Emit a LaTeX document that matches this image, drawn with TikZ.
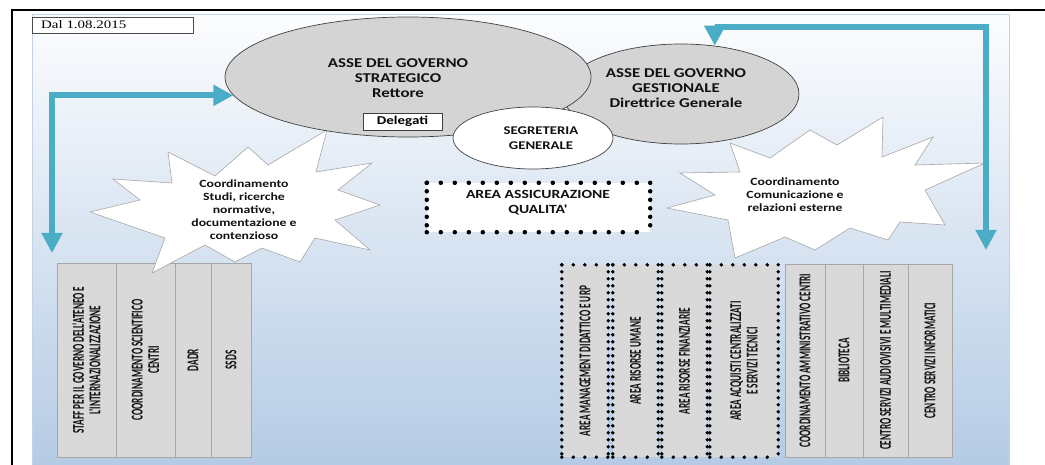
\documentclass[tikz,border=0pt]{standalone}
\usepackage{fontspec}
\setmainfont{Carlito}
\newfontfamily\hfont[FakeStretch=1.25]{Carlito}
\newfontfamily\vfont[FakeStretch=0.56, BoldFeatures={FakeStretch=0.56}]{Carlito}
\newfontfamily\datefont[FakeStretch=1.3]{Liberation Serif}
\usetikzlibrary{shapes.geometric,arrows.meta}
\definecolor{ellfill}{HTML}{D4D4D4}
\definecolor{boxfill}{HTML}{D9D9D9}
\definecolor{boxline}{HTML}{A6A6A6}
\definecolor{tealc}{HTML}{4BACC6}
\definecolor{paneltop}{HTML}{FCFDFE}
\definecolor{panelbot}{HTML}{B5CBE5}
\definecolor{panelline}{HTML}{C3D2E4}
\definecolor{txt}{HTML}{111111}
\begin{document}
\begin{tikzpicture}[x=1pt,y=-1pt,
  ell/.style={ellipse, draw=black!75, line width=0.7pt, fill=ellfill, inner sep=0pt},
  htext/.style={font=\hfont\bfseries\fontsize{13.5}{15}\selectfont, align=center, text=txt, inner sep=0pt},
  stext/.style={font=\hfont\bfseries\fontsize{11}{13}\selectfont, align=center, text=txt, inner sep=0pt},
  vtext/.style={font=\vfont\bfseries\fontsize{16.5}{16.5}\selectfont, align=center, text=txt, inner sep=0pt, rotate=90},
  gbox/.style={draw=boxline, line width=0.7pt, fill=boxfill, inner sep=0pt},
  dbox/.style={fill=boxfill, inner sep=0pt},
  starb/.style={fill=white, draw=black!35, line width=0.6pt},
  hdots/.style={line width=4.5pt, line cap=round, dash pattern=on 0pt off 14pt},
  vdots/.style={line width=4.5pt, line cap=round, dash pattern=on 0pt off 8.5pt},
  hsdots/.style={line width=3.8pt, line cap=round, dash pattern=on 0pt off 11.5pt},
  vsdots/.style={line width=3.8pt, line cap=round, dash pattern=on 0pt off 7pt},
  tarr/.style={draw=tealc, line width=6pt, line join=miter, {Triangle[length=20pt,width=20pt]}-{Triangle[length=20pt,width=20pt]}}
]
\useasboundingbox (0,0) rectangle (1045,465);
% panel
\shade[top color=paneltop, bottom color=panelbot] (32,14) rectangle (1009,465);
\draw[panelline, line width=0.8pt] (32,465) -- (32,14) -- (1009,14) -- (1009,465);
% outer frame
\draw[black, line width=2.5pt] (12,465) -- (12,10) -- (1045,10);
% date box
\node[draw=black!70, fill=white, line width=0.8pt, minimum width=161, minimum height=16, inner sep=0pt] (datebox) at (112.5,25) {};
\node[anchor=west, inner sep=0pt, font=\datefont\fontsize{11.5}{13}\selectfont] (datetext) at (41,25) {Dal 1.08.2015};

% bottom-left boxes
\node[gbox, minimum width=59, minimum height=194] (b1) at (86.5,360) {};
\node[gbox, minimum width=59, minimum height=194] (b2) at (145.5,360) {};
\node[gbox, minimum width=36, minimum height=194] (b3) at (193,360) {};
\node[gbox, minimum width=40, minimum height=194] (b4) at (231,360) {};
\node[vtext] (tb1) at (b1.center) {STAFF PER IL GOVERNO DELL'ATENEO E\\L'INTERNAZIONALIZZAZIONE};
\node[vtext] (tb2) at (b2.center) {COORDINAMENTO SCIENTIFICO\\CENTRI};
\node[vtext] (tb3) at (b3.center) {DADR};
\node[vtext] (tb4) at (b4.center) {SSDS};

% bottom-right dotted boxes
\node[dbox, minimum width=46, minimum height=192] (d1) at (585,361) {};
\node[dbox, minimum width=45, minimum height=192] (d2) at (635.5,361) {};
\node[dbox, minimum width=45, minimum height=192] (d3) at (684.5,361) {};
\node[dbox, minimum width=68, minimum height=192] (d4) at (744,361) {};
\foreach \n in {d1,d2,d3,d4}{
  \draw[hsdots] (\n.north west) -- (\n.north east);
  \draw[hsdots] (\n.south west) -- (\n.south east);
  \draw[vsdots] (\n.north west) -- (\n.south west);
  \draw[vsdots] (\n.north east) -- (\n.south east);
}
\node[vtext] (td1) at (d1.center) {AREA MANAGEMENT DIDATTICO E URP};
\node[vtext] (td2) at (d2.center) {AREA RISORSE UMANE};
\node[vtext] (td3) at (d3.center) {AREA RISORSE FINANZIARIE};
\node[vtext] (td4) at (d4.center) {AREA ACQUISTI CENTRALIZZATI\\E SERVIZI TECNICI};

% bottom-right solid boxes
\node[gbox, minimum width=40, minimum height=193] (s1) at (805,360.5) {};
\node[gbox, minimum width=38, minimum height=193] (s2) at (844,360.5) {};
\node[gbox, minimum width=45, minimum height=193] (s3) at (885.5,360.5) {};
\node[gbox, minimum width=44, minimum height=193] (s4) at (930,360.5) {};
\node[vtext] (ts1) at (s1.center) {COORDINAMENTO AMMINISTRATIVO CENTRI};
\node[vtext] (ts2) at (s2.center) {BIBLIOTECA};
\node[vtext] (ts3) at (s3.center) {CENTRO SERVIZI AUDIOVISIVI E MULTIMEDIALI};
\node[vtext] (ts4) at (s4.center) {CENTRO SERVIZI INFORMATICI};

% starbursts
\draw[starb] (168,152) -- (215,176) -- (248,147) -- (268,165) -- (327,130) -- (316,172)
  -- (372,163) -- (338,190) -- (380,205) -- (335,220) -- (370,250) -- (315,238)
  -- (300,262) -- (262,248) -- (235,262) -- (205,245) -- (152,273) -- (165,238)
  -- (90,212) -- (140,200) -- (113,179) -- (172,183) -- cycle;
\draw[starb] (730,143) -- (770,158) -- (810,130) -- (837,145) -- (883,117) -- (882,157)
  -- (933,137) -- (915,165) -- (985,163) -- (925,190) -- (945,225) -- (900,222)
  -- (888,240) -- (850,228) -- (815,250) -- (785,237) -- (735,258) -- (728,220)
  -- (667,208) -- (715,195) -- (680,173) -- (740,172) -- cycle;
\node[stext] (starL) at (244,210) {Coordinamento\\Studi, ricerche\\normative,\\documentazione e\\contenzioso};
\node[stext] (starR) at (795,194.5) {Coordinamento\\Comunicazione e\\relazioni esterne};

% ellipses
\node[ell, minimum width=236, minimum height=100] (e2) at (681,94) {};
\node[ell, minimum width=366, minimum height=120] (e1) at (408,77) {};
\node[ell, fill=white, minimum width=160, minimum height=62] (e3) at (533,138) {};
\node[htext] (e1t) at (398,78) {ASSE DEL GOVERNO\\STRATEGICO\\Rettore};
\node[draw=black!75, fill=white, line width=0.7pt, minimum width=79, minimum height=17, inner sep=0pt, font=\hfont\bfseries\fontsize{12}{14}\selectfont] (deleg) at (402.5,121.5) {Delegati};
\node[htext] (e2t) at (676,88.5) {ASSE DEL GOVERNO\\GESTIONALE\\Direttrice Generale};
\node[htext, font=\hfont\bfseries\fontsize{11.8}{15}\selectfont] (e3t) at (541,138.5) {SEGRETERIA\\GENERALE};

% quality box
\node[fill=white, minimum width=223, minimum height=49, inner sep=0pt] (qa) at (538.5,207.5) {};
\draw[hdots] (qa.north west) -- (qa.north east);
\draw[hdots] (qa.south west) -- (qa.south east);
\draw[vdots] (qa.north west) -- (qa.south west);
\draw[vdots] (qa.north east) -- (qa.south east);
\node[htext, font=\hfont\bfseries\fontsize{12.5}{15}\selectfont] (qat) at (538,202.5) {AREA ASSICURAZIONE\\QUALITA'};

% arrows
\coordinate (lbot) at (52,253);
\coordinate (lcorner) at (e1.186 -| lbot);
\draw[tarr] (e1.186) -- (lcorner) -- (lbot);
\coordinate (rtop) at (986,27);
\coordinate (rbot) at (986,250);
\coordinate (rcorner) at (e2.55 |- rtop);
\draw[tarr] (e2.55) -- (rcorner) -- (rtop) -- (rbot);
\end{tikzpicture}
\end{document}
